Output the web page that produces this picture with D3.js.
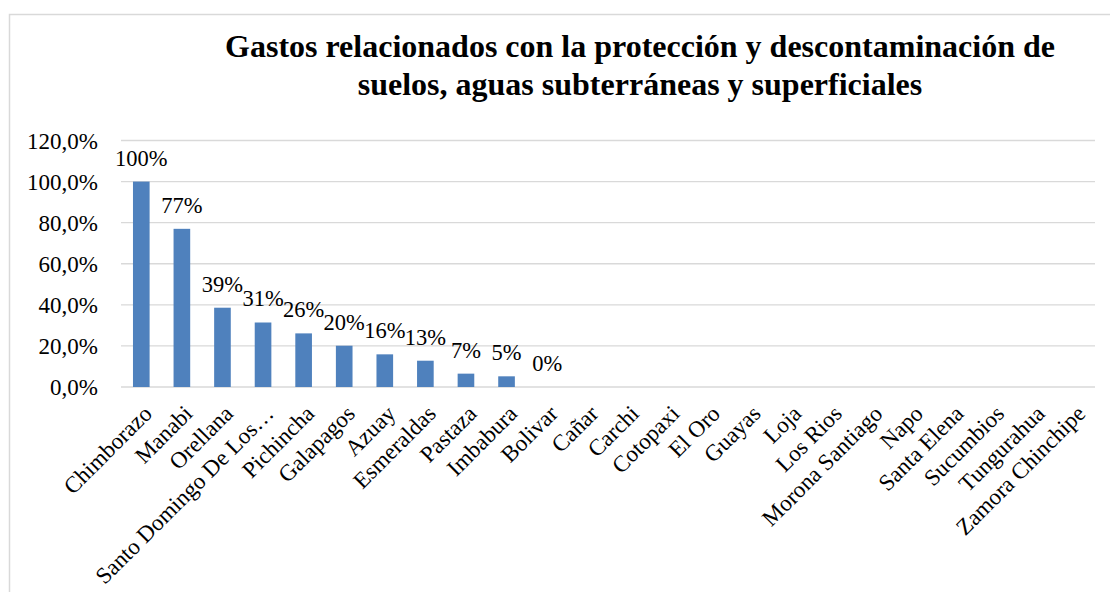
<!DOCTYPE html>
<html><head><meta charset="utf-8">
<script src="https://cdn.jsdelivr.net/npm/d3@7"></script>
<style>body{margin:0;background:#fff}svg{display:block}text{font-family:"Liberation Serif","Times New Roman",serif}</style>
</head><body><svg id="c" width="1110" height="592"></svg>
<script>
const categories = ["Chimborazo","Manabi","Orellana","Santo Domingo De Los…","Pichincha","Galapagos","Azuay","Esmeraldas","Pastaza","Imbabura","Bolivar","Cañar","Carchi","Cotopaxi","El Oro","Guayas","Loja","Los Rios","Morona Santiago","Napo","Santa Elena","Sucumbios","Tungurahua","Zamora Chinchipe"];
const values = [1.00,0.770,0.386,0.314,0.261,0.201,0.159,0.128,0.065,0.052,0,null,null,null,null,null,null,null,null,null,null,null,null,null];
const yTicks = [0,0.2,0.4,0.6,0.8,1.0,1.2];
const titleLines = ["Gastos relacionados con la protección y descontaminación de","suelos, aguas subterráneas y superficiales"];

const svg = d3.select("#c");
svg.append("rect").attr("x",9.5).attr("y",14.5).attr("width",1120).attr("height",600)
  .attr("fill","#fff").attr("stroke","#d9d9d9").attr("stroke-width",1.5);

const x = d3.scaleBand().domain(categories).range([121,1095]).paddingInner(0.59).paddingOuter(0.295);
const y = d3.scaleLinear().domain([0,1.2]).range([387,140.5]);

// gridlines
svg.append("g").selectAll("line").data(yTicks).join("line")
  .attr("x1",121).attr("x2",1095).attr("y1",d=>y(d)).attr("y2",d=>y(d))
  .attr("stroke","#d9d9d9").attr("stroke-width",1.3);

// y axis labels
const yAxis = d3.axisLeft(y).tickValues(yTicks).tickSize(0).tickPadding(0)
  .tickFormat(d=>d3.format(".1f")(d*100).replace(".",",")+"%");
const gy = svg.append("g").attr("transform","translate(98,0)").call(yAxis);
gy.select(".domain").remove();
gy.selectAll("text").attr("font-size",23).attr("fill","#000").attr("font-family","Liberation Serif").attr("dy","0.34em");

// bars
const pts = categories.map((c,i)=>({c,v:values[i]})).filter(d=>d.v!=null);
svg.append("g").selectAll("rect").data(pts).join("rect")
  .attr("x",d=>x(d.c)).attr("width",x.bandwidth())
  .attr("y",d=>y(d.v)).attr("height",d=>y(0)-y(d.v))
  .attr("fill","#4f81bd");

// data labels
svg.append("g").selectAll("text").data(pts).join("text")
  .attr("x",d=>x(d.c)+x.bandwidth()/2).attr("y",d=>y(d.v)-16)
  .attr("text-anchor","middle").attr("font-size",22.5).attr("fill","#000")
  .text(d=>Math.round(d.v*100)+"%");

// x axis labels
const xAxis = d3.axisBottom(x).tickSize(0).tickPadding(0);
const gx = svg.append("g").attr("transform","translate(0,387)").call(xAxis);
gx.select(".domain").remove();
gx.selectAll("text").attr("font-size",23).attr("fill","#000").attr("font-family","Liberation Serif")
  .attr("text-anchor","end").attr("dy",null).attr("y",0)
  .attr("transform","translate(12,28) rotate(-45)");

// title
svg.append("g").selectAll("text").data(titleLines).join("text")
  .attr("x",640).attr("y",(d,i)=>57+i*38).attr("text-anchor","middle")
  .attr("font-size",32).attr("font-weight","bold").attr("fill","#000")
  .text(d=>d);
</script></body></html>
